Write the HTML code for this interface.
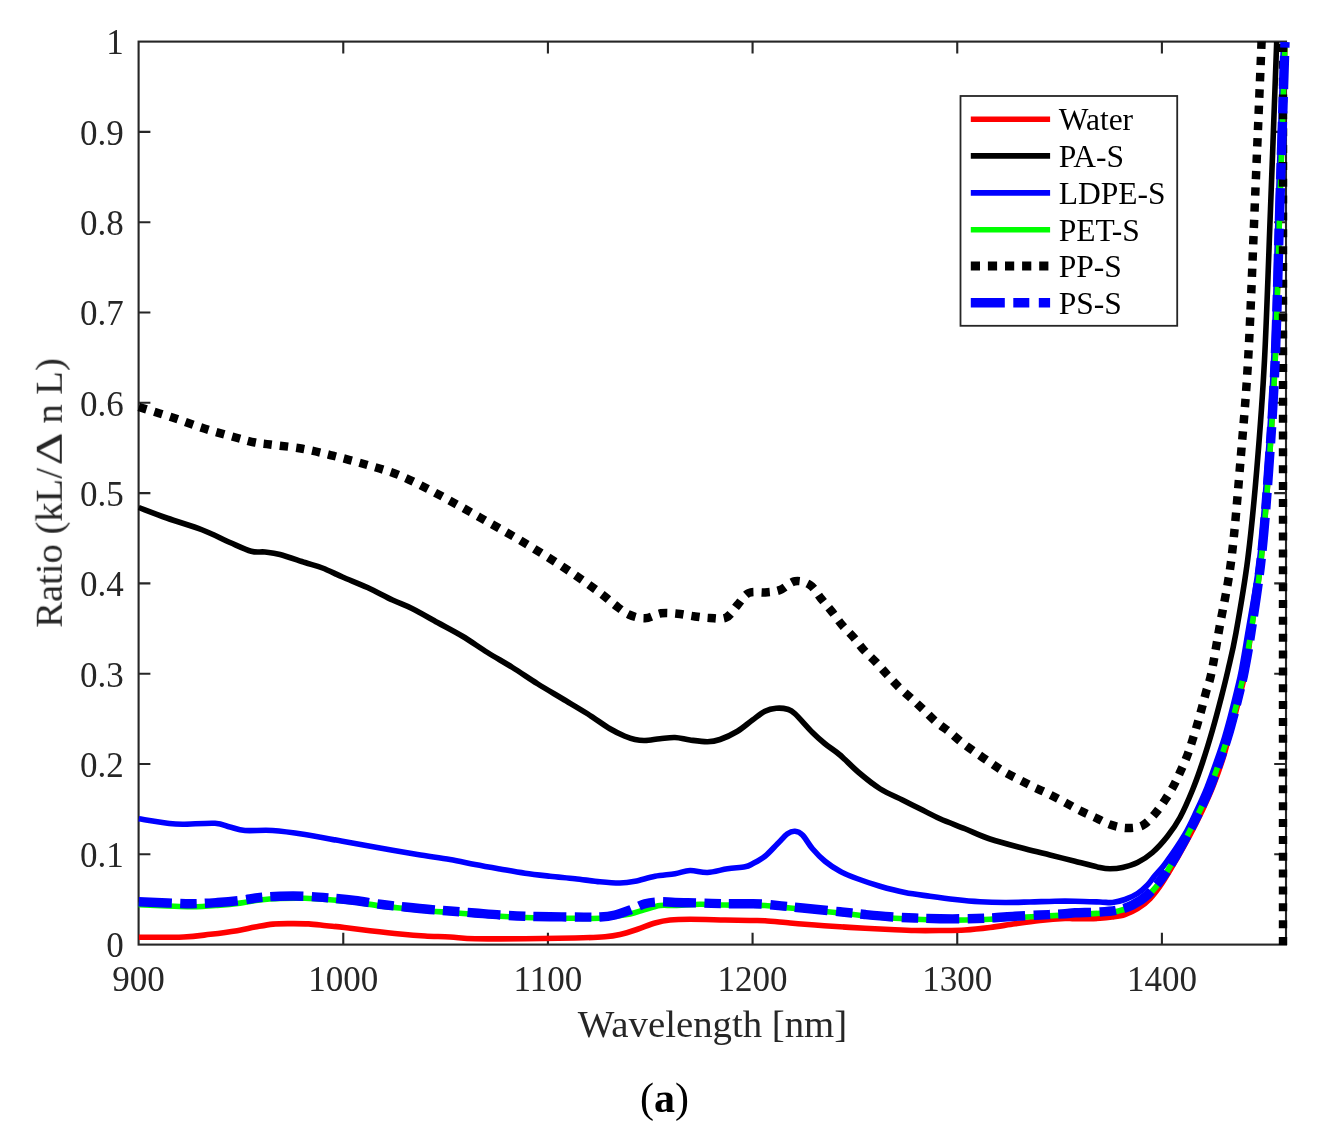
<!DOCTYPE html>
<html lang="en">
<head>
<meta charset="utf-8">
<title>Ratio vs Wavelength</title>
<style>
html,body{margin:0;padding:0;background:#fff;}
body{width:1344px;height:1140px;overflow:hidden;font-family:"Liberation Serif",serif;}
svg{display:block;}
svg text{font-family:"Liberation Serif",serif;}
.crv{fill:none;stroke-linejoin:round;stroke-linecap:butt;}
</style>
</head>
<body>
<svg width="1344" height="1140" viewBox="0 0 1344 1140">
<rect x="0" y="0" width="1344" height="1140" fill="#ffffff"/>
<defs><filter id="soft" x="-2%" y="-2%" width="104%" height="104%"><feGaussianBlur stdDeviation="0.65"/></filter></defs>
<g filter="url(#soft)">
<!-- axes box + ticks (under curves) -->
<g fill="none" stroke="#262626" stroke-width="2.1">
<rect x="138.6" y="41.6" width="1147.4" height="903.0"/>
<path d="M343.26,944.6v-11.8 M343.26,41.6v11.8 M547.92,944.6v-11.8 M547.92,41.6v11.8 M752.58,944.6v-11.8 M752.58,41.6v11.8 M957.24,944.6v-11.8 M957.24,41.6v11.8 M1161.90,944.6v-11.8 M1161.90,41.6v11.8 M138.6,854.30h11.8 M1286.0,854.30h-11.8 M138.6,764.00h11.8 M1286.0,764.00h-11.8 M138.6,673.70h11.8 M1286.0,673.70h-11.8 M138.6,583.40h11.8 M1286.0,583.40h-11.8 M138.6,493.10h11.8 M1286.0,493.10h-11.8 M138.6,402.80h11.8 M1286.0,402.80h-11.8 M138.6,312.50h11.8 M1286.0,312.50h-11.8 M138.6,222.20h11.8 M1286.0,222.20h-11.8 M138.6,131.90h11.8 M1286.0,131.90h-11.8"/>
</g>
<!-- curves -->
<clipPath id="cp"><rect x="135" y="41.6" width="1155" height="905"/></clipPath>
<g class="crv" clip-path="url(#cp)">
<path d="M138.90,937.30C146.35,937.25 171.68,937.50 183.60,937.00C195.52,936.50 201.48,935.35 210.40,934.30C219.32,933.25 229.67,931.90 237.10,930.70C244.53,929.50 249.03,928.20 255.00,927.10C260.97,926.00 266.95,924.68 272.90,924.10C278.85,923.52 284.75,923.63 290.70,923.60C296.65,923.57 302.65,923.55 308.60,923.90C314.55,924.25 320.45,925.10 326.40,925.70C332.35,926.30 337.03,926.67 344.30,927.50C351.57,928.33 360.72,929.62 370.00,930.70C379.28,931.78 390.83,933.12 400.00,934.00C409.17,934.88 416.67,935.50 425.00,936.00C433.33,936.50 441.67,936.54 450.00,937.00C458.33,937.46 462.50,938.46 475.00,938.75C487.50,939.04 508.33,938.88 525.00,938.75C541.67,938.62 561.67,938.33 575.00,938.00C588.33,937.67 597.50,937.33 605.00,936.75C612.50,936.17 614.58,935.75 620.00,934.50C625.42,933.25 631.67,931.17 637.50,929.25C643.33,927.33 649.58,924.54 655.00,923.00C660.42,921.46 664.17,920.62 670.00,920.00C675.83,919.38 680.83,919.25 690.00,919.25C699.17,919.25 715.00,919.79 725.00,920.00C735.00,920.21 743.33,920.38 750.00,920.50C756.67,920.62 758.33,920.33 765.00,920.75C771.67,921.17 781.67,922.29 790.00,923.00C798.33,923.71 806.67,924.38 815.00,925.00C823.33,925.62 831.67,926.21 840.00,926.75C848.33,927.29 856.67,927.79 865.00,928.25C873.33,928.71 881.67,929.12 890.00,929.50C898.33,929.88 906.67,930.33 915.00,930.50C923.33,930.67 931.67,930.58 940.00,930.50C948.33,930.42 956.67,930.50 965.00,930.00C973.33,929.50 981.67,928.54 990.00,927.50C998.33,926.46 1006.67,924.92 1015.00,923.75C1023.33,922.58 1031.67,921.38 1040.00,920.50C1048.33,919.62 1059.17,918.79 1065.00,918.50C1070.83,918.21 1069.17,918.79 1075.00,918.75C1080.83,918.71 1093.75,918.54 1100.00,918.25C1106.25,917.96 1108.33,917.62 1112.50,917.00C1116.67,916.38 1120.83,915.88 1125.00,914.50C1129.17,913.12 1133.33,911.38 1137.50,908.75C1141.67,906.12 1145.83,903.12 1150.00,898.75C1154.17,894.38 1157.92,889.38 1162.50,882.50C1167.08,875.62 1172.92,865.42 1177.50,857.50C1182.08,849.58 1185.83,842.92 1190.00,835.00C1194.17,827.08 1198.75,817.92 1202.50,810.00C1206.25,802.08 1209.17,795.83 1212.50,787.50C1215.83,779.17 1219.80,768.33 1222.50,760.00C1225.20,751.67 1226.62,745.00 1228.70,737.50C1230.78,730.00 1232.87,722.92 1234.95,715.00C1237.03,707.08 1239.41,697.50 1241.20,690.00C1242.99,682.50 1244.10,679.45 1245.70,670.00C1247.30,660.55 1248.22,651.83 1250.80,633.30C1253.38,614.77 1258.22,586.13 1261.20,558.80C1264.18,531.47 1266.37,502.43 1268.70,469.30C1271.03,436.17 1273.32,404.88 1275.20,360.00C1277.08,315.12 1278.37,253.00 1280.00,200.00C1281.63,147.00 1284.17,68.33 1285.00,42.00" stroke="#ff0000" stroke-width="5.6"/>
<path d="M138.75,507.50C143.54,509.29 156.88,514.50 167.50,518.25C178.12,522.00 192.08,525.96 202.50,530.00C212.92,534.04 221.88,538.96 230.00,542.50C238.12,546.04 245.42,549.67 251.25,551.25C257.08,552.83 260.21,551.46 265.00,552.00C269.79,552.54 273.33,552.75 280.00,554.50C286.67,556.25 297.92,560.25 305.00,562.50C312.08,564.75 316.25,565.58 322.50,568.00C328.75,570.42 335.00,573.75 342.50,577.00C350.00,580.25 359.17,583.67 367.50,587.50C375.83,591.33 385.00,596.46 392.50,600.00C400.00,603.54 405.00,605.00 412.50,608.75C420.00,612.50 429.17,617.92 437.50,622.50C445.83,627.08 454.17,631.25 462.50,636.25C470.83,641.25 479.17,647.29 487.50,652.50C495.83,657.71 504.17,662.29 512.50,667.50C520.83,672.71 529.17,678.54 537.50,683.75C545.83,688.96 554.17,693.75 562.50,698.75C570.83,703.75 579.58,708.75 587.50,713.75C595.42,718.75 603.75,725.00 610.00,728.75C616.25,732.50 620.83,734.46 625.00,736.25C629.17,738.04 631.67,738.79 635.00,739.50C638.33,740.21 640.83,740.62 645.00,740.50C649.17,740.38 655.00,739.25 660.00,738.75C665.00,738.25 670.00,737.29 675.00,737.50C680.00,737.71 684.58,739.29 690.00,740.00C695.42,740.71 702.50,741.83 707.50,741.75C712.50,741.67 715.00,741.25 720.00,739.50C725.00,737.75 732.08,734.50 737.50,731.25C742.92,728.00 747.92,723.33 752.50,720.00C757.08,716.67 761.04,713.21 765.00,711.25C768.96,709.29 772.50,708.58 776.25,708.25C780.00,707.92 784.38,708.33 787.50,709.25C790.62,710.17 790.83,709.88 795.00,713.75C799.17,717.62 807.50,727.50 812.50,732.50C817.50,737.50 820.42,740.00 825.00,743.75C829.58,747.50 834.38,750.21 840.00,755.00C845.62,759.79 852.08,766.88 858.75,772.50C865.42,778.12 872.71,784.17 880.00,788.75C887.29,793.33 895.83,796.67 902.50,800.00C909.17,803.33 913.75,805.62 920.00,808.75C926.25,811.88 932.50,815.42 940.00,818.75C947.50,822.08 956.67,825.38 965.00,828.75C973.33,832.12 980.00,835.67 990.00,839.00C1000.00,842.33 1015.00,846.08 1025.00,848.75C1035.00,851.42 1041.67,852.92 1050.00,855.00C1058.33,857.08 1066.67,859.17 1075.00,861.25C1083.33,863.33 1094.17,866.25 1100.00,867.50C1105.83,868.75 1106.25,868.75 1110.00,868.75C1113.75,868.75 1117.92,868.54 1122.50,867.50C1127.08,866.46 1132.50,865.00 1137.50,862.50C1142.50,860.00 1147.50,856.88 1152.50,852.50C1157.50,848.12 1162.92,842.08 1167.50,836.25C1172.08,830.42 1175.83,825.21 1180.00,817.50C1184.17,809.79 1188.75,799.17 1192.50,790.00C1196.25,780.83 1199.17,772.50 1202.50,762.50C1205.83,752.50 1209.38,740.83 1212.50,730.00C1215.62,719.17 1218.67,707.50 1221.25,697.50C1223.83,687.50 1225.56,680.70 1228.00,670.00C1230.44,659.30 1232.60,651.83 1235.90,633.30C1239.20,614.77 1244.32,586.13 1247.80,558.80C1251.28,531.47 1254.02,502.43 1256.80,469.30C1259.58,436.17 1262.22,403.38 1264.50,360.00C1266.78,316.62 1268.47,262.00 1270.50,209.00C1272.53,156.00 1275.67,69.83 1276.70,42.00" stroke="#000000" stroke-width="5.6"/>
<path d="M138.75,818.75C143.54,819.50 160.21,822.33 167.50,823.25C174.79,824.17 174.58,824.25 182.50,824.25C190.42,824.25 207.08,822.79 215.00,823.25C222.92,823.71 225.00,825.79 230.00,827.00C235.00,828.21 237.92,829.92 245.00,830.50C252.08,831.08 262.50,829.83 272.50,830.50C282.50,831.17 293.33,832.71 305.00,834.50C316.67,836.29 330.00,839.00 342.50,841.25C355.00,843.50 367.50,845.79 380.00,848.00C392.50,850.21 405.83,852.58 417.50,854.50C429.17,856.42 440.42,857.83 450.00,859.50C459.58,861.17 466.67,862.92 475.00,864.50C483.33,866.08 491.67,867.54 500.00,869.00C508.33,870.46 516.67,872.04 525.00,873.25C533.33,874.46 541.67,875.33 550.00,876.25C558.33,877.17 566.67,877.83 575.00,878.75C583.33,879.67 592.50,881.04 600.00,881.75C607.50,882.46 614.17,883.08 620.00,883.00C625.83,882.92 629.17,882.38 635.00,881.25C640.83,880.12 648.33,877.50 655.00,876.25C661.67,875.00 669.17,874.71 675.00,873.75C680.83,872.79 684.58,870.71 690.00,870.50C695.42,870.29 701.25,872.79 707.50,872.50C713.75,872.21 721.25,869.71 727.50,868.75C733.75,867.79 740.83,867.58 745.00,866.75C749.17,865.92 749.17,865.50 752.50,863.75C755.83,862.00 760.83,859.58 765.00,856.25C769.17,852.92 773.75,847.50 777.50,843.75C781.25,840.00 784.58,835.83 787.50,833.75C790.42,831.67 792.50,831.04 795.00,831.25C797.50,831.46 799.58,832.08 802.50,835.00C805.42,837.92 808.75,844.38 812.50,848.75C816.25,853.12 820.42,857.50 825.00,861.25C829.58,865.00 834.58,868.33 840.00,871.25C845.42,874.17 850.83,876.25 857.50,878.75C864.17,881.25 872.08,883.96 880.00,886.25C887.92,888.54 896.67,890.83 905.00,892.50C913.33,894.17 921.67,895.08 930.00,896.25C938.33,897.42 946.67,898.58 955.00,899.50C963.33,900.42 971.67,901.25 980.00,901.75C988.33,902.25 996.67,902.46 1005.00,902.50C1013.33,902.54 1021.67,902.21 1030.00,902.00C1038.33,901.79 1047.50,901.38 1055.00,901.25C1062.50,901.12 1067.50,901.12 1075.00,901.25C1082.50,901.38 1093.75,901.79 1100.00,902.00C1106.25,902.21 1108.33,902.92 1112.50,902.50C1116.67,902.08 1120.83,901.00 1125.00,899.50C1129.17,898.00 1133.75,895.92 1137.50,893.50C1141.25,891.08 1144.58,888.00 1147.50,885.00C1150.42,882.00 1152.08,879.00 1155.00,875.50C1157.92,872.00 1160.08,870.75 1165.00,864.00C1169.92,857.25 1179.17,844.00 1184.50,835.00C1189.83,826.00 1193.25,817.92 1197.00,810.00C1200.75,802.08 1203.67,795.83 1207.00,787.50C1210.33,779.17 1214.08,768.33 1217.00,760.00C1219.92,751.67 1222.21,745.00 1224.50,737.50C1226.79,730.00 1228.67,722.92 1230.75,715.00C1232.83,707.08 1235.21,697.50 1237.00,690.00C1238.79,682.50 1239.70,679.45 1241.50,670.00C1243.30,660.55 1244.77,651.83 1247.80,633.30C1250.83,614.77 1256.47,586.13 1259.70,558.80C1262.93,531.47 1264.87,502.43 1267.20,469.30C1269.53,436.17 1271.82,404.88 1273.70,360.00C1275.58,315.12 1276.87,253.00 1278.50,200.00C1280.13,147.00 1282.67,68.33 1283.50,42.00" stroke="#0000ff" stroke-width="5.6"/>
<path d="M138.75,904.75C143.54,904.96 158.54,905.67 167.50,906.00C176.46,906.33 184.17,906.86 192.50,906.75C200.83,906.64 209.58,905.94 217.50,905.34C225.42,904.74 232.92,904.03 240.00,903.13C247.08,902.23 253.33,900.72 260.00,899.95C266.67,899.18 272.50,898.79 280.00,898.51C287.50,898.23 296.67,898.07 305.00,898.28C313.33,898.50 321.67,899.14 330.00,899.80C338.33,900.46 346.67,901.21 355.00,902.23C363.33,903.24 371.67,904.84 380.00,905.90C388.33,906.96 396.67,907.73 405.00,908.58C413.33,909.43 422.50,910.36 430.00,911.01C437.50,911.65 442.50,911.89 450.00,912.45C457.50,913.01 466.67,913.73 475.00,914.37C483.33,915.02 491.67,915.77 500.00,916.30C508.33,916.83 516.67,917.26 525.00,917.55C533.33,917.84 541.67,917.92 550.00,918.05C558.33,918.17 566.67,918.26 575.00,918.30C583.33,918.34 593.33,918.63 600.00,918.30C606.67,917.97 610.00,917.02 615.00,916.30C620.00,915.58 625.00,915.13 630.00,914.00C635.00,912.87 640.00,910.92 645.00,909.50C650.00,908.08 655.00,906.17 660.00,905.50C665.00,904.83 668.33,905.70 675.00,905.50C681.67,905.30 691.67,904.38 700.00,904.30C708.33,904.22 716.67,904.92 725.00,905.05C733.33,905.17 743.33,904.97 750.00,905.05C756.67,905.13 758.33,905.05 765.00,905.55C771.67,906.05 781.67,907.22 790.00,908.05C798.33,908.88 806.67,909.72 815.00,910.55C823.33,911.38 831.67,912.17 840.00,913.05C848.33,913.92 856.67,914.97 865.00,915.80C873.33,916.63 881.67,917.47 890.00,918.05C898.33,918.63 906.67,918.97 915.00,919.30C923.33,919.63 931.67,919.92 940.00,920.05C948.33,920.17 956.67,920.17 965.00,920.05C973.33,919.92 981.67,919.72 990.00,919.30C998.33,918.88 1006.67,918.05 1015.00,917.55C1023.33,917.05 1031.67,916.72 1040.00,916.30C1048.33,915.88 1059.17,915.42 1065.00,915.05C1070.83,914.67 1069.17,914.34 1075.00,914.05C1080.83,913.76 1092.92,913.76 1100.00,913.30C1107.08,912.84 1112.08,912.52 1117.50,911.30C1122.92,910.08 1127.50,908.55 1132.50,906.00C1137.50,903.45 1142.50,900.58 1147.50,896.00C1152.50,891.42 1157.92,884.87 1162.50,878.50C1167.08,872.13 1170.83,865.00 1175.00,857.80C1179.17,850.60 1183.33,843.22 1187.50,835.30C1191.67,827.38 1196.25,818.22 1200.00,810.30C1203.75,802.38 1206.67,796.13 1210.00,787.80C1213.33,779.47 1217.08,768.63 1220.00,760.30C1222.92,751.97 1225.21,745.30 1227.50,737.80C1229.79,730.30 1231.67,723.22 1233.75,715.30C1235.83,707.38 1238.21,697.80 1240.00,690.30C1241.79,682.80 1242.70,679.75 1244.50,670.30C1246.30,660.85 1248.02,652.13 1250.80,633.60C1253.58,615.07 1258.22,586.43 1261.20,559.10C1264.18,531.77 1266.37,502.73 1268.70,469.60C1271.03,436.47 1273.32,405.18 1275.20,360.30C1277.08,315.42 1278.37,253.30 1280.00,200.30C1281.63,147.30 1284.17,68.63 1285.00,42.30" stroke="#00ff00" stroke-width="5.6"/>
<path d="M138.75,407.00C144.38,408.75 161.46,413.88 172.50,417.50C183.54,421.12 194.17,425.33 205.00,428.75C215.83,432.17 229.17,435.71 237.50,438.00C245.83,440.29 249.58,441.42 255.00,442.50C260.42,443.58 262.08,443.46 270.00,444.50C277.92,445.54 291.67,446.79 302.50,448.75C313.33,450.71 324.17,453.54 335.00,456.25C345.83,458.96 356.88,461.88 367.50,465.00C378.12,468.12 388.33,470.83 398.75,475.00C409.17,479.17 419.79,484.79 430.00,490.00C440.21,495.21 450.21,500.83 460.00,506.25C469.79,511.67 479.17,517.08 488.75,522.50C498.33,527.92 507.92,533.12 517.50,538.75C527.08,544.38 536.67,550.21 546.25,556.25C555.83,562.29 565.83,568.75 575.00,575.00C584.17,581.25 594.58,588.75 601.25,593.75C607.92,598.75 610.42,601.54 615.00,605.00C619.58,608.46 623.75,612.29 628.75,614.50C633.75,616.71 639.58,618.46 645.00,618.25C650.42,618.04 655.83,614.00 661.25,613.25C666.67,612.50 672.08,613.25 677.50,613.75C682.92,614.25 688.33,615.54 693.75,616.25C699.17,616.96 704.58,617.79 710.00,618.00C715.42,618.21 721.67,619.67 726.25,617.50C730.83,615.33 733.75,609.08 737.50,605.00C741.25,600.92 744.17,595.08 748.75,593.00C753.33,590.92 759.79,593.00 765.00,592.50C770.21,592.00 775.00,591.88 780.00,590.00C785.00,588.12 790.00,582.08 795.00,581.25C800.00,580.42 805.62,582.08 810.00,585.00C814.38,587.92 817.58,594.29 821.25,598.75C824.92,603.21 828.46,607.29 832.00,611.75C835.54,616.21 838.88,621.21 842.50,625.50C846.12,629.79 850.12,633.33 853.75,637.50C857.38,641.67 860.50,646.33 864.25,650.50C868.00,654.67 872.38,658.42 876.25,662.50C880.12,666.58 883.67,670.83 887.50,675.00C891.33,679.17 895.21,683.54 899.25,687.50C903.29,691.46 907.67,695.00 911.75,698.75C915.83,702.50 919.67,706.12 923.75,710.00C927.83,713.88 931.96,718.33 936.25,722.00C940.54,725.67 945.12,728.50 949.50,732.00C953.88,735.50 958.12,739.58 962.50,743.00C966.88,746.42 971.17,749.25 975.75,752.50C980.33,755.75 985.33,759.33 990.00,762.50C994.67,765.67 998.96,768.67 1003.75,771.50C1008.54,774.33 1013.75,776.92 1018.75,779.50C1023.75,782.08 1028.75,784.58 1033.75,787.00C1038.75,789.42 1043.75,791.54 1048.75,794.00C1053.75,796.46 1058.75,799.08 1063.75,801.75C1068.75,804.42 1073.54,807.38 1078.75,810.00C1083.96,812.62 1089.79,815.08 1095.00,817.50C1100.21,819.92 1104.79,822.75 1110.00,824.50C1115.21,826.25 1120.83,827.83 1126.25,828.00C1131.67,828.17 1137.71,827.88 1142.50,825.50C1147.29,823.12 1151.25,818.00 1155.00,813.75C1158.75,809.50 1161.88,804.71 1165.00,800.00C1168.12,795.29 1171.17,790.29 1173.75,785.50C1176.33,780.71 1178.29,776.12 1180.50,771.25C1182.71,766.38 1185.00,761.46 1187.00,756.25C1189.00,751.04 1190.75,745.42 1192.50,740.00C1194.25,734.58 1195.92,729.17 1197.50,723.75C1199.08,718.33 1200.54,712.92 1202.00,707.50C1203.46,702.08 1204.71,696.88 1206.25,691.25C1207.79,685.62 1209.04,684.39 1211.25,673.75C1213.46,663.11 1216.14,646.56 1219.50,627.40C1222.86,608.24 1227.82,587.63 1231.40,558.80C1234.98,529.97 1238.17,488.45 1241.00,454.40C1243.83,420.35 1246.07,396.90 1248.40,354.50C1250.73,312.10 1252.87,250.60 1255.00,200.00C1257.13,149.40 1260.05,79.23 1261.20,50.90C1262.35,22.57 1261.78,33.48 1261.90,30.00" stroke="#000000" stroke-width="8.5" stroke-dasharray="8.3 8.0"/>
<path d="M1283,945V42" stroke="#000000" stroke-width="8.4" stroke-dasharray="8 8.85"/>
<path d="M138.75,901.75C143.54,901.96 158.54,902.67 167.50,903.00C176.46,903.33 184.17,903.83 192.50,903.75C200.83,903.67 209.58,903.04 217.50,902.50C225.42,901.96 232.92,901.33 240.00,900.50C247.08,899.67 253.33,898.21 260.00,897.50C266.67,896.79 272.50,896.46 280.00,896.25C287.50,896.04 296.67,895.96 305.00,896.25C313.33,896.54 321.67,897.29 330.00,898.00C338.33,898.71 346.67,899.46 355.00,900.50C363.33,901.54 371.67,903.17 380.00,904.25C388.33,905.33 396.67,906.12 405.00,907.00C413.33,907.88 422.50,908.83 430.00,909.50C437.50,910.17 442.50,910.42 450.00,911.00C457.50,911.58 466.67,912.33 475.00,913.00C483.33,913.67 491.67,914.46 500.00,915.00C508.33,915.54 516.67,915.96 525.00,916.25C533.33,916.54 541.67,916.62 550.00,916.75C558.33,916.88 566.67,916.96 575.00,917.00C583.33,917.04 593.33,917.33 600.00,917.00C606.67,916.67 610.00,916.17 615.00,915.00C620.00,913.83 625.00,911.88 630.00,910.00C635.00,908.12 640.00,905.12 645.00,903.75C650.00,902.38 655.00,901.96 660.00,901.75C665.00,901.54 668.33,902.29 675.00,902.50C681.67,902.71 691.67,902.79 700.00,903.00C708.33,903.21 716.67,903.62 725.00,903.75C733.33,903.88 743.33,903.67 750.00,903.75C756.67,903.83 758.33,903.75 765.00,904.25C771.67,904.75 781.67,905.92 790.00,906.75C798.33,907.58 806.67,908.42 815.00,909.25C823.33,910.08 831.67,910.88 840.00,911.75C848.33,912.62 856.67,913.67 865.00,914.50C873.33,915.33 881.67,916.17 890.00,916.75C898.33,917.33 906.67,917.67 915.00,918.00C923.33,918.33 931.67,918.62 940.00,918.75C948.33,918.88 956.67,918.88 965.00,918.75C973.33,918.62 981.67,918.42 990.00,918.00C998.33,917.58 1006.67,916.75 1015.00,916.25C1023.33,915.75 1031.67,915.42 1040.00,915.00C1048.33,914.58 1059.17,914.12 1065.00,913.75C1070.83,913.38 1069.17,913.04 1075.00,912.75C1080.83,912.46 1092.92,912.46 1100.00,912.00C1107.08,911.54 1112.08,911.17 1117.50,910.00C1122.92,908.83 1127.50,907.50 1132.50,905.00C1137.50,902.50 1142.50,899.58 1147.50,895.00C1152.50,890.42 1157.92,883.75 1162.50,877.50C1167.08,871.25 1170.83,864.58 1175.00,857.50C1179.17,850.42 1183.33,842.92 1187.50,835.00C1191.67,827.08 1196.25,817.92 1200.00,810.00C1203.75,802.08 1206.67,795.83 1210.00,787.50C1213.33,779.17 1217.08,768.33 1220.00,760.00C1222.92,751.67 1225.21,745.00 1227.50,737.50C1229.79,730.00 1231.67,722.92 1233.75,715.00C1235.83,707.08 1238.21,697.50 1240.00,690.00C1241.79,682.50 1242.70,679.45 1244.50,670.00C1246.30,660.55 1248.02,651.83 1250.80,633.30C1253.58,614.77 1258.22,586.13 1261.20,558.80C1264.18,531.47 1266.37,502.43 1268.70,469.30C1271.03,436.17 1273.32,404.88 1275.20,360.00C1277.08,315.12 1278.37,253.00 1280.00,200.00C1281.63,147.00 1284.17,68.33 1285.00,42.00" stroke="#0000ff" stroke-width="9.4" stroke-dasharray="33 8.5 16.5 8"/>
</g>
<!-- tick labels -->
<g fill="#262626" font-size="35"><text x="138.6" y="991.3" text-anchor="middle">900</text><text x="343.3" y="991.3" text-anchor="middle">1000</text><text x="547.9" y="991.3" text-anchor="middle">1100</text><text x="752.6" y="991.3" text-anchor="middle">1200</text><text x="957.2" y="991.3" text-anchor="middle">1300</text><text x="1161.9" y="991.3" text-anchor="middle">1400</text><text x="123.8" y="957.4" text-anchor="end">0</text><text x="123.8" y="867.1" text-anchor="end">0.1</text><text x="123.8" y="776.8" text-anchor="end">0.2</text><text x="123.8" y="686.5" text-anchor="end">0.3</text><text x="123.8" y="596.2" text-anchor="end">0.4</text><text x="123.8" y="505.9" text-anchor="end">0.5</text><text x="123.8" y="415.6" text-anchor="end">0.6</text><text x="123.8" y="325.3" text-anchor="end">0.7</text><text x="123.8" y="235.0" text-anchor="end">0.8</text><text x="123.8" y="144.7" text-anchor="end">0.9</text><text x="123.8" y="54.4" text-anchor="end">1</text></g>
<!-- axis labels -->
<text x="712.5" y="1037" text-anchor="middle" font-size="38.8" fill="#262626">Wavelength [nm]</text>
<g transform="translate(61.8,627.7) rotate(-90)" font-size="38.6" fill="#262626">
<text x="0" y="0">Ratio (kL/</text>
<text transform="translate(162.2,0) scale(1.33,1)" x="0" y="0">Δ</text>
<text x="204.2" y="0">n L)</text>
</g>
<!-- legend -->
<g><rect x="960.5" y="96" width="216.7" height="229.8" fill="#fff" stroke="#262626" stroke-width="1.8"/><line x1="970.8" y1="119.2" x2="1050.1" y2="119.2" stroke="#ff0000" stroke-width="5.6"/><line x1="970.8" y1="155.9" x2="1050.1" y2="155.9" stroke="#000000" stroke-width="5.6"/><line x1="970.8" y1="192.9" x2="1050.1" y2="192.9" stroke="#0000ff" stroke-width="5.6"/><line x1="970.8" y1="229.8" x2="1050.1" y2="229.8" stroke="#00ff00" stroke-width="5.6"/><line x1="970.8" y1="265.9" x2="1050.1" y2="265.9" stroke="#000000" stroke-width="9" stroke-dasharray="9.2 7.9"/><line x1="970.8" y1="302.8" x2="1050.1" y2="302.8" stroke="#0000ff" stroke-width="9.5" stroke-dasharray="34 8.5 16 9.5"/></g>
<g fill="#000" font-size="31.5"><text x="1058.7" y="130.0">Water</text><text x="1058.7" y="166.7">PA-S</text><text x="1058.7" y="203.7">LDPE-S</text><text x="1058.7" y="240.6">PET-S</text><text x="1058.7" y="276.7">PP-S</text><text x="1058.7" y="313.6">PS-S</text></g>
<!-- caption -->
<text x="664.4" y="1111.5" text-anchor="middle" font-size="42" fill="#000">(<tspan font-weight="bold">a</tspan>)</text>
</g>
</svg>
</body>
</html>
